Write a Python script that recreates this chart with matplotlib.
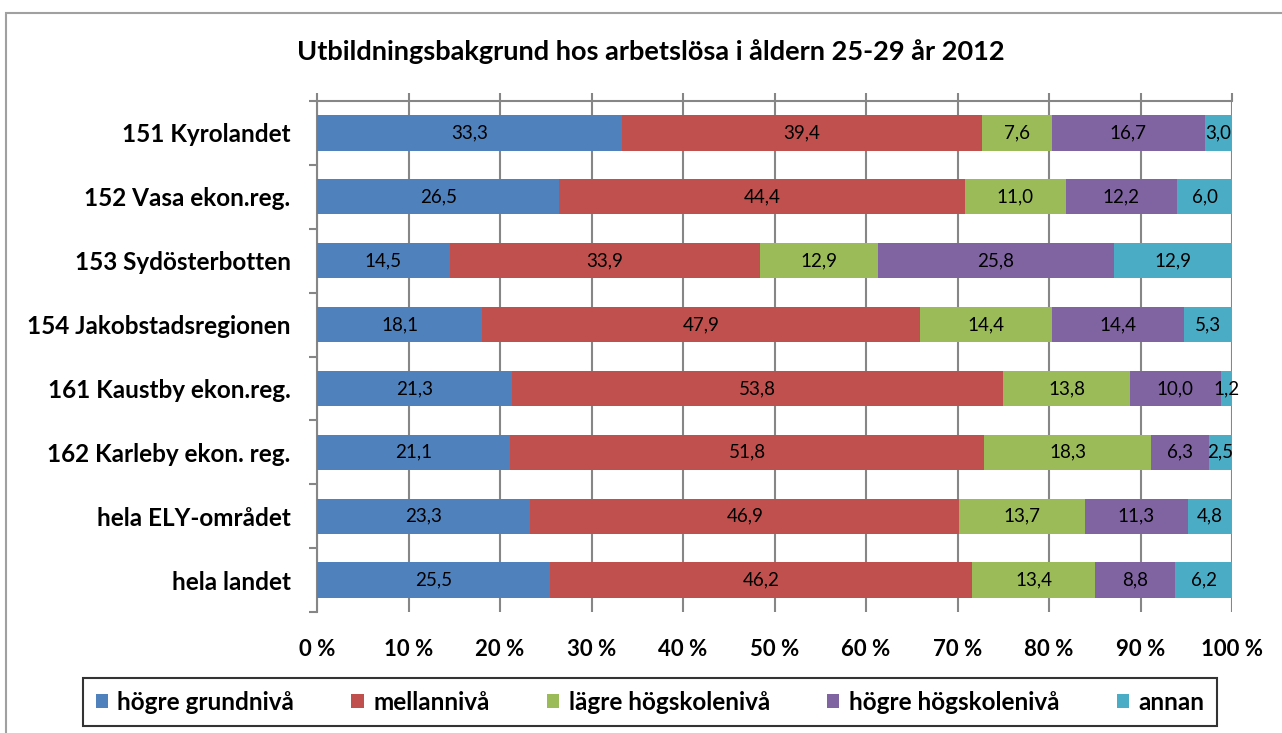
import numpy as np
import matplotlib
matplotlib.use("Agg")
import matplotlib.pyplot as plt
from matplotlib.patches import Rectangle, Patch
from matplotlib.ticker import FuncFormatter, FixedLocator

plt.rcParams['font.family'] = ['Lato', 'DejaVu Sans']

regions = ["151 Kyrolandet", "152 Vasa ekon.reg.", "153 Sydösterbotten",
           "154 Jakobstadsregionen", "161 Kaustby ekon.reg.", "162 Karleby ekon. reg.",
           "hela ELY-området", "hela landet"]
series = ["högre grundnivå", "mellannivå", "lägre högskolenivå", "högre högskolenivå", "annan"]

hogre_grund = [33.3, 26.5, 14.5, 18.1, 21.3, 21.1, 23.3, 25.5]
mellan = [39.4, 44.4, 33.9, 47.9, 53.8, 51.8, 46.9, 46.2]
lagre_hogsk = [7.6, 11.0, 12.9, 14.4, 13.8, 18.3, 13.7, 13.4]
hogre_hogsk = [16.7, 12.2, 25.8, 14.4, 10.0, 6.3, 11.3, 8.8]
annan = [3.0, 6.0, 12.9, 5.3, 1.2, 2.5, 4.8, 6.2]

colors = ["#4F81BD", "#C0504D", "#9BBB59", "#8064A2", "#4BACC6"]
grey = "#868686"

data = np.array([hogre_grund, mellan, lagre_hogsk, hogre_hogsk, annan])
shares = data / data.sum(axis=0) * 100

fig = plt.figure(figsize=(12.82, 7.33), dpi=100)
ax = fig.add_axes([317 / 1282, 1 - 612 / 733, 915 / 1282, 511 / 733])

y = np.arange(len(regions))
left = np.zeros(len(regions))
for i, name in enumerate(series):
    bars = ax.barh(y, shares[i], left=left, height=0.55, color=colors[i], label=name, zorder=3)
    for j, b in enumerate(bars):
        ax.text(left[j] + shares[i][j] / 2, y[j], f"{data[i][j]:.1f}".replace(".", ","),
                ha="center", va="center", fontsize=13.5, color="black", zorder=4)
    left += shares[i]

ax.set_xlim(0, 100)
ax.set_ylim(len(regions) - 0.5, -0.5)
ax.set_xticks(np.arange(0, 101, 10))
ax.xaxis.set_major_formatter(FuncFormatter(lambda v, p: f"{int(v)} %"))
ax.tick_params(axis="x", bottom=False, top=True, labelbottom=True, labeltop=False,
               direction="out", length=6, width=1.5, color=grey, pad=13.5,
               labelsize=16)
for lbl in ax.get_xticklabels():
    lbl.set_fontweight("bold")
ax.grid(axis="x", color=grey, linewidth=1.5, zorder=0)

ax.set_yticks(y)
ax.set_yticklabels(regions, fontsize=17.5, fontweight="bold")
ax.yaxis.set_minor_locator(FixedLocator(np.arange(-0.5, len(regions), 1)))
ax.tick_params(axis="y", which="major", length=0, pad=19)
ax.tick_params(axis="y", which="minor", length=6, width=1.5, color=grey, direction="out")

for s in ["right", "bottom"]:
    ax.spines[s].set_visible(False)
for s in ["left", "top"]:
    ax.spines[s].set_color(grey)
    ax.spines[s].set_linewidth(1.5)

fig.text(651 / 1282, 1 - 52 / 733, "Utbildningsbakgrund hos arbetslösa i åldern 25-29 år 2012",
         ha="center", va="center", fontsize=19.5, fontweight="bold")

# outer chart border
fig.add_artist(Rectangle((6 / 1282, -0.1), 1.2, 1.1 - 13 / 733, transform=fig.transFigure,
                         fill=False, edgecolor="#A0A0A0", linewidth=1.5))

handles = [Patch(facecolor=c, label=n) for c, n in zip(colors, series)]
leg = fig.legend(handles=handles, loc="center", bbox_to_anchor=(650 / 1282, 1 - 702 / 733),
                 ncol=5, fontsize=17.5, frameon=True, fancybox=False, handlelength=0.5,
                 handleheight=0.5, handletextpad=0.4, columnspacing=2.35, borderpad=0.5)
for t in leg.get_texts():
    t.set_fontweight("bold")
leg.get_frame().set_edgecolor("black")
leg.get_frame().set_linewidth(1.5)

fig.savefig("out.png", dpi=100)
